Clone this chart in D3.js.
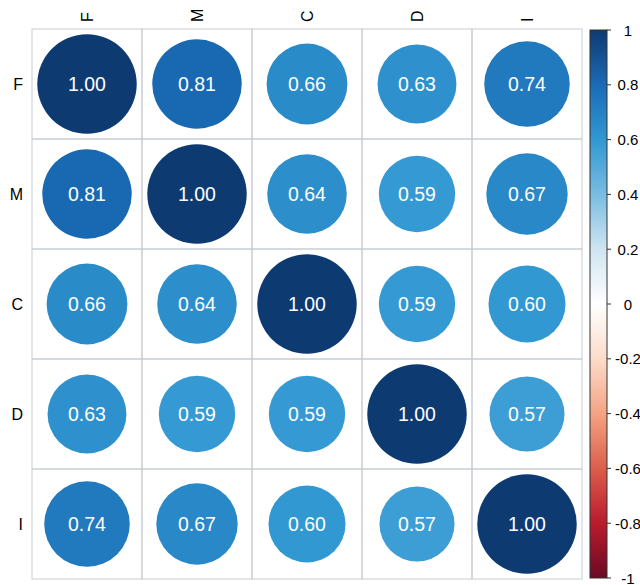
<!DOCTYPE html>
<html>
<head>
<meta charset="utf-8">
<script src="https://cdn.jsdelivr.net/npm/d3@7"></script>
<style>
  body { margin: 0; background: #fff; }
  svg text { font-family: "Liberation Sans", Arial, sans-serif; }
</style>
</head>
<body>
<script>
// variables
const labels = ["F", "M", "C", "D", "I"];
const corrF = [1.00, 0.81, 0.66, 0.63, 0.74];
const corrM = [0.81, 1.00, 0.64, 0.59, 0.67];
const corrC = [0.66, 0.64, 1.00, 0.59, 0.60];
const corrD = [0.63, 0.59, 0.59, 1.00, 0.57];
const corrI = [0.74, 0.67, 0.60, 0.57, 1.00];
const matrix = [corrF, corrM, corrC, corrD, corrI];

// legend ticks
const legendTicks = [1, 0.8, 0.6, 0.4, 0.2, 0, -0.2, -0.4, -0.6, -0.8, -1];

// palette (RdBu like corrplot)
const colStops = [-1, -0.8, -0.6, -0.4, -0.2, 0, 0.2, 0.4, 0.6, 0.8, 1];
const colValues = ["#6a0a24", "#ba1b2d", "#db5e4b", "#f4a383", "#fcdcc9", "#ffffff",
                   "#cfe5f1", "#78bde2", "#3198d2", "#1a6bb5", "#0e3a72"];

const width = 640, height = 585;

const svg = d3.select("body")
    .append("svg")
    .attr("width", width)
    .attr("height", height);

const color = d3.scaleLinear().domain(colStops).range(colValues);

// grid
const x = d3.scaleBand().domain(labels).range([32, 582]);
const y = d3.scaleBand().domain(labels).range([29, 579]);
const cell = x.bandwidth();

const cells = [];
matrix.forEach((row, i) => row.forEach((v, j) => cells.push({ r: labels[i], c: labels[j], v })));

svg.append("g")
    .selectAll("rect")
    .data(cells)
    .join("rect")
    .attr("x", d => x(d.c))
    .attr("y", d => y(d.r))
    .attr("width", cell)
    .attr("height", cell)
    .attr("fill", "none")
    .attr("stroke", "#c8ccd1")
    .attr("stroke-width", 1);

// cercles (aire ~ |r|)
const rad = d3.scaleSqrt().domain([0, 1]).range([0, cell * 0.452]);

svg.append("g")
    .selectAll("circle")
    .data(cells)
    .join("circle")
    .attr("cx", d => x(d.c) + cell / 2)
    .attr("cy", d => y(d.r) + cell / 2)
    .attr("r", d => rad(Math.abs(d.v)))
    .attr("fill", d => color(d.v));

svg.append("g")
    .selectAll("text")
    .data(cells)
    .join("text")
    .attr("x", d => x(d.c) + cell / 2)
    .attr("y", d => y(d.r) + cell / 2 + 7)
    .attr("text-anchor", "middle")
    .attr("font-size", 19.5)
    .attr("fill", "#fff")
    .text(d => d.v.toFixed(2));

// labels
svg.append("g")
    .selectAll("text")
    .data(labels)
    .join("text")
    .attr("x", 23)
    .attr("y", d => y(d) + cell / 2 + 6)
    .attr("text-anchor", "end")
    .attr("font-size", 16)
    .attr("fill", "#000")
    .text(d => d);

svg.append("g")
    .selectAll("text")
    .data(labels)
    .join("text")
    .attr("transform", d => `translate(${x(d) + cell / 2 + 6}, 22) rotate(-90)`)
    .attr("text-anchor", "start")
    .attr("font-size", 16)
    .attr("fill", "#000")
    .text(d => d);

// colour legend
const ly = d3.scaleLinear().domain([-1, 1]).range([578, 30]);
const grad = svg.append("defs").append("linearGradient")
    .attr("id", "cbar")
    .attr("x1", 0).attr("y1", 1).attr("x2", 0).attr("y2", 0);
grad.selectAll("stop")
    .data(colStops)
    .join("stop")
    .attr("offset", d => (d + 1) / 2)
    .attr("stop-color", d => color(d));

svg.append("rect")
    .attr("x", 590)
    .attr("y", ly(1))
    .attr("width", 17)
    .attr("height", ly(-1) - ly(1))
    .attr("fill", "url(#cbar)")
    .attr("stroke", "#333")
    .attr("stroke-width", 1);

svg.append("g")
    .selectAll("line")
    .data(legendTicks)
    .join("line")
    .attr("x1", 607)
    .attr("x2", 611)
    .attr("y1", d => ly(d))
    .attr("y2", d => ly(d))
    .attr("stroke", "#333");

svg.append("g")
    .selectAll("text")
    .data(legendTicks)
    .join("text")
    .attr("x", 628)
    .attr("y", d => ly(d) + 5.5)
    .attr("text-anchor", "middle")
    .attr("font-size", 15)
    .attr("fill", "#000")
    .text(d => d3.format("~g")(d).replace("−", "-"));
</script>
</body>
</html>
